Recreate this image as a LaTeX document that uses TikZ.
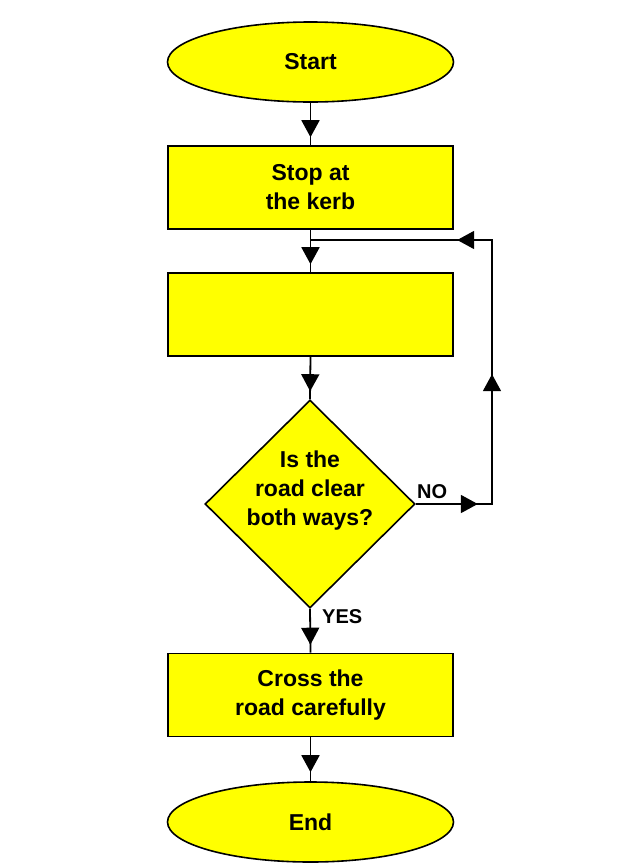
\documentclass[tikz,border=0pt]{standalone}
\usepackage{fontspec}
\setmainfont{Liberation Sans}
\usetikzlibrary{shapes.geometric,arrows.meta,decorations.markings}
\definecolor{boxyellow}{RGB}{255,255,0}
\begin{document}
\begin{tikzpicture}[x=1pt,y=-1pt,
  mainfont/.style={font=\bfseries\fontsize{23}{29}\selectfont},
  box/.style={draw=black, line width=1.6pt, fill=boxyellow, minimum width=285pt, minimum height=83pt, inner sep=0pt, align=center, mainfont},
  term/.style={ellipse, draw=black, line width=1.6pt, fill=boxyellow, minimum width=286pt, minimum height=80pt, inner sep=0pt, mainfont},
  decision/.style={diamond, draw=black, line width=1.6pt, fill=boxyellow, minimum width=210pt, minimum height=208pt, inner sep=0pt},
  dtxt/.style={align=center, inner sep=0pt, mainfont},
  lbl/.style={inner sep=0pt, font=\bfseries\fontsize{20}{24}\selectfont},
  conn/.style={draw=black, line width=1.8pt},
  tipat/.style={postaction={decorate}, decoration={markings, mark=at position #1 with {\arrow{Triangle[length=17pt,width=18pt]}}}},
  loopmarks/.style={postaction={decorate}, decoration={markings,
      mark=at position 62pt with {\arrow{Triangle[length=17pt,width=18pt]}},
      mark=at position 206pt with {\arrow{Triangle[length=17pt,width=18pt]}},
      mark=at position 375pt with {\arrow{Triangle[length=17pt,width=18pt]}}}},
]
\useasboundingbox (0,0) rectangle (625,868);

\node[term] (start) at (310.5,62) {Start};
\node[box] (stop) at (310.5,187.5) {Stop at\\the kerb};
\node[box] (blank) at (310.5,314.5) {};
\node[decision] (dec) at (310,504) {};
\node[dtxt] (q) at (310,491) {Is the\\road clear\\both ways?};
\node[box] (cross) at (310.5,695) {Cross the\\road carefully};
\node[term] (end) at (310.5,822) {End};

\coordinate (c1) at (492,504);
\coordinate (c2) at (492,240);
\coordinate (j) at (310,240);

\draw[conn, tipat=-8pt] (start.south) -- (stop.north);
\draw[conn, tipat=-8pt] (stop.south) -- (blank.north);
\draw[conn, tipat=-8pt] (blank.south) -- (dec.north);
\draw[conn, tipat=-8pt] (dec.south) -- (cross.north);
\draw[conn, tipat=-9pt] (cross.south) -- (end.north);
\draw[conn, loopmarks] (dec.east) -- (c1) -- (c2) -- (j);

\node[lbl, anchor=west] (no) at (417,492) {NO};
\node[lbl, anchor=west] (yes) at (322,617) {YES};
\end{tikzpicture}
\end{document}
